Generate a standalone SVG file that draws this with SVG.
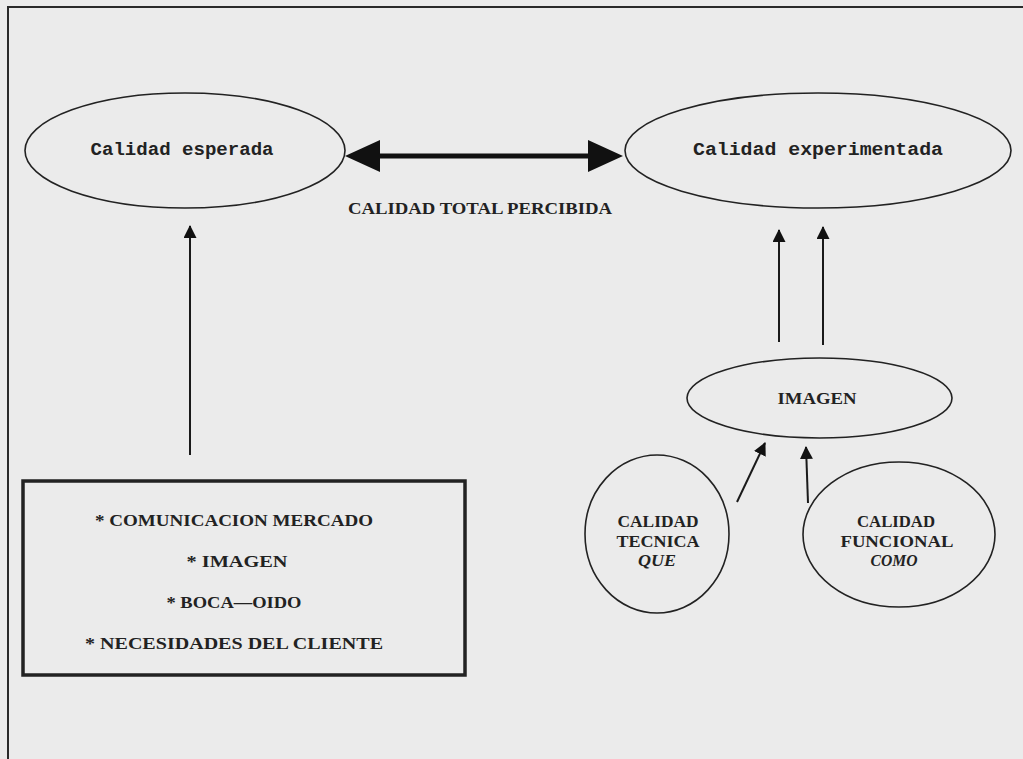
<svg xmlns="http://www.w3.org/2000/svg" width="1023" height="759" viewBox="0 0 1023 759">
  <defs>
    <style>
      .bg { fill: #ebebeb; }
      .frame { fill: none; stroke: #2a2a2a; stroke-width: 2; }
      .node { fill: none; stroke: #222; stroke-width: 1.6; }
      .box { fill: none; stroke: #222; stroke-width: 3.5; }
      .conn { stroke: #1a1a1a; stroke-width: 2; fill: none; }
      .thick { stroke: #111; stroke-width: 5; fill: none; }
      .head { fill: #111; }
      .mono { font-family: "Liberation Mono", "DejaVu Sans Mono", monospace; font-weight: bold; font-size: 18px; fill: #222; }
      .cap { font-family: "Liberation Serif", "DejaVu Serif", serif; font-weight: bold; font-size: 17px; fill: #222; }
      .it { font-family: "Liberation Serif", "DejaVu Serif", serif; font-weight: bold; font-style: italic; font-size: 17px; fill: #222; }
    </style>
    <marker id="arr" markerUnits="userSpaceOnUse" markerWidth="13" markerHeight="13" refX="12" refY="6.5" orient="auto">
      <path d="M0,0 L13,6.5 L0,13 z" fill="#111"/>
    </marker>
  </defs>

  <rect class="bg" x="0" y="0" width="1023" height="759"/>
  <path class="frame" d="M8,759 L8,7 L1023,7"/>

  <g id="calidad-esperada">
    <ellipse class="node" cx="185" cy="150.5" rx="160" ry="57.5"/>
    <text class="mono" x="182" y="155" text-anchor="middle" textLength="183" lengthAdjust="spacingAndGlyphs">Calidad esperada</text>
  </g>

  <g id="calidad-experimentada">
    <ellipse class="node" cx="818" cy="150.5" rx="193" ry="57.5"/>
    <text class="mono" x="818" y="155" text-anchor="middle" textLength="250" lengthAdjust="spacingAndGlyphs">Calidad experimentada</text>
  </g>

  <g id="calidad-total-percibida">
    <text class="cap" x="480" y="214" text-anchor="middle" textLength="264" lengthAdjust="spacingAndGlyphs">CALIDAD TOTAL PERCIBIDA</text>
  </g>

  <g id="factores">
    <rect class="box" x="23" y="481" width="442" height="194"/>
    <text class="cap" x="234" y="526" text-anchor="middle" textLength="278" lengthAdjust="spacingAndGlyphs">* COMUNICACION MERCADO</text>
    <text class="cap" x="237" y="567" text-anchor="middle" textLength="101" lengthAdjust="spacingAndGlyphs">* IMAGEN</text>
    <text class="cap" x="234" y="608" text-anchor="middle" textLength="135" lengthAdjust="spacingAndGlyphs">* BOCA—OIDO</text>
    <text class="cap" x="234" y="649" text-anchor="middle" textLength="298" lengthAdjust="spacingAndGlyphs">* NECESIDADES DEL CLIENTE</text>
  </g>

  <g id="imagen">
    <ellipse class="node" cx="819.5" cy="398" rx="132.5" ry="40"/>
    <text class="cap" x="817" y="404" text-anchor="middle" textLength="79" lengthAdjust="spacingAndGlyphs">IMAGEN</text>
  </g>

  <g id="calidad-tecnica">
    <ellipse class="node" cx="657" cy="534" rx="72" ry="79"/>
    <text class="cap" x="658" y="527" text-anchor="middle" textLength="81" lengthAdjust="spacingAndGlyphs">CALIDAD</text>
    <text class="cap" x="658" y="547" text-anchor="middle" textLength="83" lengthAdjust="spacingAndGlyphs">TECNICA</text>
    <text class="it" x="657" y="566" text-anchor="middle" textLength="38" lengthAdjust="spacingAndGlyphs">QUE</text>
  </g>

  <g id="calidad-funcional">
    <ellipse class="node" cx="899" cy="534.5" rx="96" ry="72.5"/>
    <text class="cap" x="896" y="527" text-anchor="middle" textLength="78" lengthAdjust="spacingAndGlyphs">CALIDAD</text>
    <text class="cap" x="897" y="547" text-anchor="middle" textLength="113" lengthAdjust="spacingAndGlyphs">FUNCIONAL</text>
    <text class="it" x="894" y="566" text-anchor="middle" textLength="47" lengthAdjust="spacingAndGlyphs">COMO</text>
  </g>

  <g id="connectors">
    <line class="thick" x1="376" y1="156" x2="592" y2="156"/>
    <polygon class="head" points="345,156 380,140 380,172"/>
    <polygon class="head" points="623,156 588,140 588,172"/>
    <line class="conn" x1="190" y1="455" x2="190" y2="226" marker-end="url(#arr)"/>
    <line class="conn" x1="779" y1="342" x2="779" y2="230" marker-end="url(#arr)"/>
    <line class="conn" x1="823" y1="345" x2="823" y2="227" marker-end="url(#arr)"/>
    <line class="conn" x1="737" y1="502" x2="765" y2="443" marker-end="url(#arr)"/>
    <line class="conn" x1="808" y1="503" x2="806" y2="447" marker-end="url(#arr)"/>
  </g>
</svg>
